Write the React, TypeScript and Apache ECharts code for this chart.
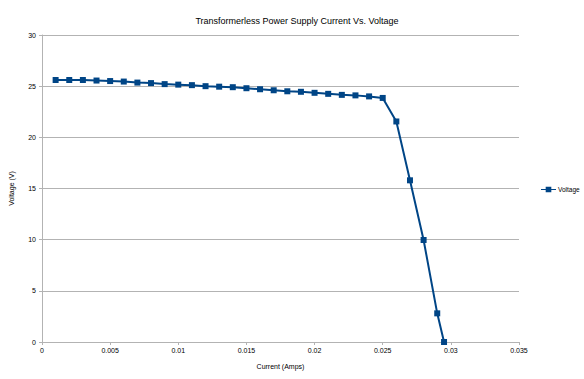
import React, { useEffect, useRef } from "react";
import * as echarts from "echarts";

const currents = [0.001, 0.002, 0.003, 0.004, 0.005, 0.006, 0.007, 0.008, 0.009, 0.01, 0.011, 0.012, 0.013, 0.014, 0.015, 0.016, 0.017, 0.018, 0.019, 0.02, 0.021, 0.022, 0.023, 0.024, 0.025, 0.026, 0.027, 0.028, 0.029, 0.0295];
const voltages = [25.6, 25.6, 25.6, 25.55, 25.5, 25.45, 25.35, 25.3, 25.2, 25.15, 25.1, 25.0, 24.95, 24.9, 24.8, 24.7, 24.6, 24.5, 24.45, 24.35, 24.25, 24.15, 24.1, 24.0, 23.85, 21.55, 15.8, 9.97, 2.8, 0];
const seriesName = "Voltage";
const titleText = "Transformerless Power Supply Current Vs. Voltage";
const xName = "Current (Amps)";
const yName = "Voltage (V)";

export default function App() {
  const ref = useRef<HTMLDivElement>(null);
  useEffect(() => {
    if (!ref.current) return;
    const chart = echarts.init(ref.current, null, { renderer: "svg" });
    const font = "'Liberation Sans', Arial, sans-serif";
    chart.setOption({
      animation: false,
      backgroundColor: "#ffffff",
      textStyle: { fontFamily: font },
      title: {
        text: titleText,
        left: 292,
        textAlign: "center",
        top: 11,
        textStyle: { fontSize: 9, fontWeight: "normal", color: "#000", fontFamily: font },
      },
      legend: {
        orient: "vertical",
        left: 541,
        top: 186,
        padding: 0,
        itemWidth: 15,
        itemHeight: 6,
        itemGap: 4,
        textStyle: { fontSize: 6.5, color: "#000", fontFamily: font, padding: [0, 0, 0, -3] },
        data: [{ name: seriesName, icon: "path://M0,4 L16,4 L16,5 L0,5 Z M5,1.5 L11,1.5 L11,7.5 L5,7.5 Z" }],
      },
      grid: { left: 41, right: 65, top: 35, bottom: 37, containLabel: false },
      xAxis: {
        type: "value",
        min: 0,
        max: 0.035,
        interval: 0.005,
        name: xName,
        nameLocation: "middle",
        nameGap: 21,
        nameTextStyle: { fontSize: 7, color: "#000", fontFamily: font },
        axisLine: { show: true, onZero: false, lineStyle: { color: "#b3b3b3", width: 1 } },
        axisTick: { show: true, length: 3, lineStyle: { color: "#b3b3b3" } },
        axisLabel: { fontSize: 7, color: "#000", margin: 5, fontFamily: font, formatter: (v: number) => String(parseFloat(v.toFixed(4))) },
        splitLine: { show: false },
      },
      yAxis: {
        type: "value",
        min: 0,
        max: 30,
        interval: 5,
        name: yName,
        nameLocation: "middle",
        nameGap: 27,
        nameRotate: 90,
        nameTextStyle: { fontSize: 7, color: "#000", fontFamily: font },
        axisLine: { show: true, lineStyle: { color: "#b3b3b3", width: 1 } },
        axisTick: { show: true, length: 3, lineStyle: { color: "#b3b3b3" } },
        axisLabel: { fontSize: 7, color: "#000", margin: 6, fontFamily: font },
        splitLine: { show: true, lineStyle: { color: "#b3b3b3", width: 1 } },
      },
      series: [
        {
          name: seriesName,
          type: "line",
          data: currents.map((c, i) => [c, voltages[i]]),
          symbol: "rect",
          symbolSize: 6,
          itemStyle: { color: "#004586" },
          lineStyle: { color: "#004586", width: 2 },
        },
      ],
    });
    return () => chart.dispose();
  }, []);
  return <div ref={ref} style={{ width: 584, height: 379, position: "absolute", left: 0, top: 0 }} />;
}
